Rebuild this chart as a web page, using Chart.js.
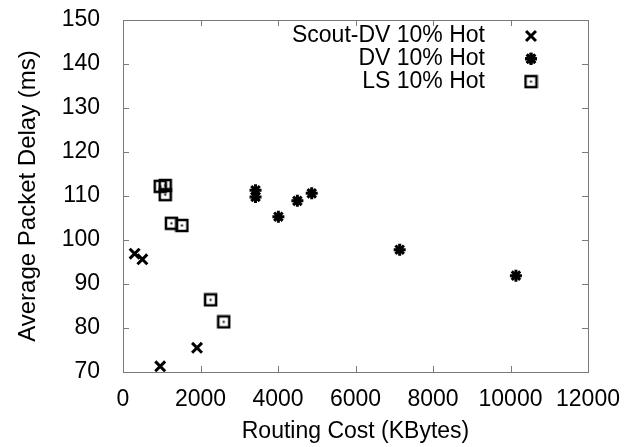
<!DOCTYPE html>
<html>
<head>
<meta charset="utf-8">
<script src="https://cdn.jsdelivr.net/npm/chart.js@4"></script>
<style>
html, body { margin: 0; padding: 0; background: #fff; }
</style>
</head>
<body>
<canvas id="delay_chart" width="625" height="447"></canvas>
<script>
// 읽어낸 데이터 (Routing Cost KBytes / Average Packet Delay ms)
const scout_x = [300, 500, 960, 1910];
const scout_y = [96.9, 95.6, 71.3, 75.5];
const dv_x = [3420, 3420, 4010, 4500, 4870, 7140, 10140];
const dv_y = [111.3, 109.8, 105.3, 108.9, 110.6, 97.8, 91.9];
const ls_x = [960, 1090, 1090, 1250, 1520, 2260, 2600];
const ls_y = [112.2, 112.4, 110.3, 103.8, 103.3, 86.4, 81.4];
const labels = ['Scout-DV 10% Hot', 'DV 10% Hot', 'LS 10% Hot'];
const x_ticks = [0, 2000, 4000, 6000, 8000, 10000, 12000];
const y_ticks = [70, 80, 90, 100, 110, 120, 130, 140, 150];

const FONT = 'Liberation Sans, Arial, Helvetica, sans-serif';

// 사각형 + 가운데 점 마커
function makeBoxDot(){
    let c = document.createElement('canvas');
    c.width = 15; c.height = 15;
    let g = c.getContext('2d');
    g.strokeStyle = '#000';
    g.lineWidth = 2.5;
    g.strokeRect(2, 2, 11, 11);
    g.fillStyle = '#000';
    g.fillRect(6.5, 6.5, 2, 2);
    return c;
}
const boxDot = makeBoxDot();

function toPoints(xs, ys){
    return xs.map((v, i) => ({x: v, y: ys[i]}));
}

// 스케일이 붙이는 여백 제거 -> layout.padding 으로만 위치 결정
function noScalePadding(s){
    s.paddingLeft = 0; s.paddingRight = 0;
    s.paddingTop = 0; s.paddingBottom = 0;
}

// gnuplot 스타일: 안쪽 눈금 + 테두리, 오른쪽 정렬 범례
const gnuplotFrame = {
    id: 'gnuplotFrame',
    afterDatasetsDraw(chart){
        const {ctx, chartArea: a, scales: {x, y}} = chart;
        ctx.save();
        ctx.strokeStyle = '#7a7a7a';
        ctx.lineWidth = 1;
        ctx.beginPath();
        x.ticks.forEach((t) => {
            let px = Math.round(x.getPixelForValue(t.value)) + 0.5;
            ctx.moveTo(px, a.bottom); ctx.lineTo(px, a.bottom - 6);
            ctx.moveTo(px, a.top); ctx.lineTo(px, a.top + 6);
        });
        y.ticks.forEach((t) => {
            let py = Math.round(y.getPixelForValue(t.value)) + 0.5;
            ctx.moveTo(a.left, py); ctx.lineTo(a.left + 6, py);
            ctx.moveTo(a.right, py); ctx.lineTo(a.right - 6, py);
        });
        ctx.stroke();
        ctx.strokeRect(Math.round(a.left) + 0.5, Math.round(a.top) + 0.5,
            Math.round(a.right - a.left), Math.round(a.bottom - a.top));

        // 범례
        ctx.font = '23px ' + FONT;
        ctx.fillStyle = '#000';
        ctx.textAlign = 'right';
        ctx.textBaseline = 'middle';
        chart.data.datasets.forEach((ds, i) => {
            let ly = a.top + 16 + i * 22.8;
            ctx.fillText(ds.label, a.right - 103, ly);
            Chart.helpers.drawPoint(ctx, {
                pointStyle: ds.pointStyle,
                radius: ds.pointRadius,
                borderWidth: ds.borderWidth
            }, a.right - 57, ly);
            if(ds.pointStyle !== boxDot) {
                ctx.strokeStyle = '#000';
                ctx.lineWidth = ds.borderWidth;
                ctx.stroke();
            }
        });
        ctx.restore();
    }
};

let ctx = document.getElementById('delay_chart');
let myChart = new Chart(ctx, {
    type: 'scatter',
    data: {
        datasets: [{
            label: labels[0],
            data: toPoints(scout_x, scout_y),
            pointStyle: 'crossRot',
            pointRadius: 7,
            borderWidth: 3,
            borderColor: '#000',
            backgroundColor: '#000'
        }, {
            label: labels[1],
            data: toPoints(dv_x, dv_y),
            pointStyle: 'star',
            pointRadius: 6,
            borderWidth: 3,
            borderColor: '#000',
            backgroundColor: '#000'
        }, {
            label: labels[2],
            data: toPoints(ls_x, ls_y),
            pointStyle: boxDot,
            pointRadius: 7,
            borderWidth: 2.5,
            borderColor: '#000',
            backgroundColor: '#000'
        }]
    },
    options: {
        responsive: false,
        animation: false,
        layout: { padding: { top: 20, right: 37, left: 0, bottom: 0 } },
        plugins: {
            legend: { display: false },
            tooltip: { enabled: false }
        },
        scales: {
            x: {
                type: 'linear',
                min: x_ticks[0],
                max: x_ticks[x_ticks.length - 1],
                afterBuildTicks: (s) => { s.ticks = x_ticks.map(v => ({value: v})); },
                afterFit: (s) => { s.height = 75; noScalePadding(s); },
                grid: { display: false },
                border: { display: false },
                ticks: {
                    padding: 6,
                    color: '#000',
                    maxRotation: 0,
                    callback: (v) => String(v),
                    font: { family: FONT, size: 23 }
                },
                title: {
                    display: true,
                    text: 'Routing Cost (KBytes)',
                    color: '#000',
                    padding: { top: 2, bottom: 2 },
                    font: { family: FONT, size: 23 }
                }
            },
            y: {
                type: 'linear',
                min: y_ticks[0],
                max: y_ticks[y_ticks.length - 1],
                afterBuildTicks: (s) => { s.ticks = y_ticks.map(v => ({value: v})); },
                afterFit: (s) => { s.width = 123; noScalePadding(s); },
                grid: { display: false },
                border: { display: false },
                ticks: {
                    padding: 15,
                    color: '#000',
                    callback: (v) => String(v),
                    font: { family: FONT, size: 23 }
                },
                title: {
                    display: true,
                    text: 'Average Packet Delay (ms)',
                    color: '#000',
                    padding: { top: 14, bottom: 0 },
                    font: { family: FONT, size: 24 }
                }
            }
        }
    },
    plugins: [gnuplotFrame]
});
</script>
</body>
</html>
